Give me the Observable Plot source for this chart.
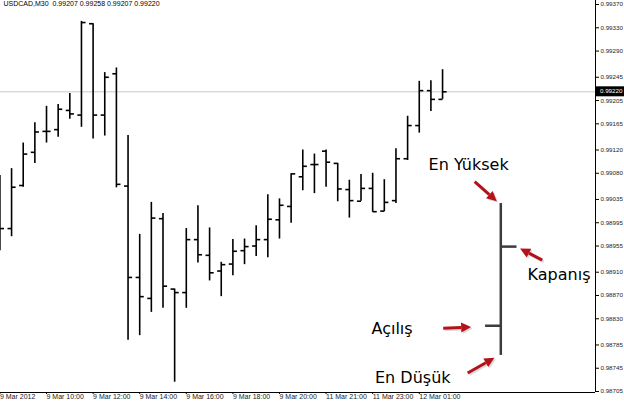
<!DOCTYPE html>
<html><head><meta charset="utf-8">
<script src="https://cdn.jsdelivr.net/npm/d3@7"></script>
<script src="https://cdn.jsdelivr.net/npm/@observablehq/plot@0.6"></script>
<style>body{margin:0;background:#fff}#chart svg{display:block}</style>
</head><body><div id="chart"></div>
<script>
const times = ["9 Mar 08:00","9 Mar 08:30","9 Mar 09:00","9 Mar 09:30","9 Mar 10:00","9 Mar 10:30","9 Mar 11:00","9 Mar 11:30","9 Mar 12:00","9 Mar 12:30","9 Mar 13:00","9 Mar 13:30","9 Mar 14:00","9 Mar 14:30","9 Mar 15:00","9 Mar 15:30","9 Mar 16:00","9 Mar 16:30","9 Mar 17:00","9 Mar 17:30","9 Mar 18:00","9 Mar 18:30","9 Mar 19:00","9 Mar 19:30","9 Mar 20:00","9 Mar 20:30","9 Mar 21:00","9 Mar 21:30","11 Mar 21:00","11 Mar 21:30","11 Mar 22:00","11 Mar 22:30","11 Mar 23:00","11 Mar 23:30","12 Mar 00:00","12 Mar 00:30","12 Mar 01:00","12 Mar 01:30","12 Mar 02:00"];
const opens  = [0.99020,0.98985,0.99059,0.99116,0.99152,0.99155,0.99188,0.99180,0.99337,0.99180,0.99251,0.99058,0.98901,0.98865,0.99002,0.98881,0.98875,0.98966,0.98939,0.98912,0.98924,0.98947,0.98955,0.98966,0.99000,0.99023,0.99074,0.99095,0.99118,0.99097,0.99052,0.99032,0.99054,0.99015,0.99033,0.99105,0.99162,0.99222,0.99207];
const highs  = [0.99076,0.99088,0.99132,0.99167,0.99195,0.99198,0.99217,0.99341,0.99337,0.99253,0.99261,0.99145,0.98975,0.99030,0.99011,0.98881,0.98985,0.99024,0.98986,0.98927,0.98966,0.98967,0.98990,0.99043,0.99036,0.99079,0.99120,0.99113,0.99120,0.99097,0.99068,0.99078,0.99080,0.99069,0.99122,0.99178,0.99238,0.99239,0.99258];
const lows   = [0.98947,0.98971,0.99056,0.99097,0.99132,0.99142,0.99173,0.99159,0.99139,0.99144,0.99055,0.98793,0.98801,0.98841,0.98848,0.98721,0.98848,0.98926,0.98895,0.98868,0.98904,0.98923,0.98937,0.98935,0.98967,0.98994,0.99050,0.99045,0.99056,0.99031,0.99003,0.99032,0.99013,0.99014,0.99028,0.99102,0.99149,0.99186,0.99207];
const closes = [0.98985,0.99056,0.99113,0.99151,0.99152,0.99190,0.99182,0.99339,0.99180,0.99245,0.99061,0.98901,0.98868,0.99003,0.98886,0.98875,0.98966,0.98940,0.98909,0.98923,0.98946,0.98954,0.98966,0.99001,0.99025,0.99079,0.99092,0.99095,0.99099,0.99053,0.99033,0.99054,0.99014,0.99030,0.99105,0.99162,0.99222,0.99207,0.99220];

const xTickIndex  = [0,4,8,12,16,20,24,28,32,36];
const xTickLabels = ["9 Mar 2012","9 Mar 10:00","9 Mar 12:00","9 Mar 14:00","9 Mar 16:00","9 Mar 18:00","9 Mar 20:00","11 Mar 21:00","11 Mar 23:00","12 Mar 01:00"];
const yTicks = [0.99370,0.99330,0.99290,0.99245,0.99205,0.99165,0.99120,0.99080,0.99035,0.98995,0.98955,0.98910,0.98870,0.98830,0.98785,0.98745,0.98705];
const header = "USDCAD,M30  0.99207 0.99258 0.99207 0.99220";

// Illustration bar (explanation of OHLC bar)
const exampleBar = [{i: 43, open: 0.98818, high: 0.99028, low: 0.98767, close: 0.98954}];
const noteLabels = ["En Yüksek","Kapanış","Açılış","En Düşük"];
const noteX = [36.8, 45.3, 31.9, 32.2];
const noteY = [0.99095, 0.98906, 0.98813, 0.98728];
const arrowX1 = [40.8, 46.6, 38.1, 40.2];
const arrowY1 = [0.99065, 0.98930, 0.98813, 0.98736];
const arrowX2 = [42.7, 44.7, 40.5, 42.5];
const arrowY2 = [0.99031, 0.98950, 0.98815, 0.98762];

const bars = times.map((t, i) => ({i, t, open: opens[i], high: highs[i], low: lows[i], close: closes[i]}));
const notes = noteLabels.map((s, k) => ({s, x: noteX[k], y: noteY[k]}));
const arrows = arrowX1.map((v, k) => ({x1: v, y1: arrowY1[k], x2: arrowX2[k], y2: arrowY2[k]}));
const lastClose = closes[closes.length - 1];
const xDomain = [0.05, 51.13];
const yDomain = [0.987033, 0.993769];
const tickLen = 0.35;
const exTick = 1.35;

const priceTag = (index, scales, values, dimensions) => {
  const y = scales.y(lastClose);
  const x = dimensions.width - dimensions.marginRight;
  const g = d3.create("svg:g");
  g.append("rect").attr("x", x + 1).attr("y", y - 5).attr("width", 28).attr("height", 10).attr("fill", "#000");
  g.append("text").attr("x", x + 5).attr("y", y).attr("dy", "0.33em").attr("text-anchor", "start")
    .attr("fill", "#fff").attr("font-size", 6.2).attr("font-family", "Liberation Sans")
    .text(lastClose.toFixed(5));
  return g.node();
};

const redArrows = (index, scales) => {
  const g = d3.create("svg:g");
  for (const a of arrows) {
    const x1 = scales.x(a.x1), y1 = scales.y(a.y1), x2 = scales.x(a.x2), y2 = scales.y(a.y2);
    const ang = Math.atan2(y2 - y1, x2 - x1);
    const hl = 10, hw = 5;
    const bx = x2 - hl * Math.cos(ang), by = y2 - hl * Math.sin(ang);
    const px = -Math.sin(ang) * hw, py = Math.cos(ang) * hw;
    const draw = (dx, dy, color, op) => {
      g.append("line").attr("x1", x1 + dx).attr("y1", y1 + dy).attr("x2", bx + dx).attr("y2", by + dy)
        .attr("stroke", color).attr("stroke-width", 3).attr("opacity", op);
      g.append("path").attr("d", `M${x2 + dx},${y2 + dy}L${bx + px + dx},${by + py + dy}L${bx - px + dx},${by - py + dy}Z`)
        .attr("fill", color).attr("opacity", op);
    };
    draw(1.5, 1.5, "#999", 0.35);
    draw(0, 0, "#b3121b", 1);
  }
  return g.node();
};

const chart = Plot.plot({
  width: 624,
  height: 404,
  marginLeft: 0,
  marginRight: 29,
  marginTop: 0,
  marginBottom: 12,
  style: {fontFamily: "Liberation Sans", fontSize: "7px", color: "#000", background: "#fff"},
  x: {type: "linear", domain: xDomain},
  y: {domain: yDomain},
  marks: [
    Plot.ruleY([lastClose], {stroke: "#c8c8c8", strokeWidth: 1}),
    Plot.ruleX(bars, {x: "i", y1: "low", y2: "high", stroke: "#000", strokeWidth: 1.6}),
    Plot.link(bars, {x1: d => d.i - tickLen, x2: "i", y1: "open", y2: "open", stroke: "#000", strokeWidth: 1.6}),
    Plot.link(bars, {x1: "i", x2: d => d.i + tickLen, y1: "close", y2: "close", stroke: "#000", strokeWidth: 1.6}),
    Plot.ruleX(exampleBar, {x: "i", y1: "low", y2: "high", stroke: "#3c3c3c", strokeWidth: 2.5}),
    Plot.link(exampleBar, {x1: d => d.i - exTick, x2: "i", y1: "open", y2: "open", stroke: "#3c3c3c", strokeWidth: 2.5}),
    Plot.link(exampleBar, {x1: "i", x2: d => d.i + exTick, y1: "close", y2: "close", stroke: "#3c3c3c", strokeWidth: 2.5}),
    redArrows,
    Plot.text(notes, {x: "x", y: "y", text: "s", textAnchor: "start", fontFamily: "DejaVu Sans", fontSize: 16, fill: "#000"}),
    Plot.text([header], {frameAnchor: "top-left", dx: 3, dy: 1, lineAnchor: "top", fill: "#000"}),
    Plot.ruleX([xDomain[1]], {stroke: "#000", strokeWidth: 1}),
    Plot.ruleY([yDomain[0]], {stroke: "#000", strokeWidth: 1}),
    Plot.axisY({anchor: "right", ticks: yTicks, tickFormat: d => d.toFixed(5), tickSize: 3, tickPadding: 2, fontSize: 6.2, fill: "#222"}),
    Plot.axisX({anchor: "bottom", ticks: xTickIndex, tickFormat: d => xTickLabels[xTickIndex.indexOf(d)], tickSize: 2, tickPadding: 0, textAnchor: "start", dx: 0, fill: "#222"}),
    priceTag
  ]
});
document.getElementById("chart").appendChild(chart);
</script>
</body></html>
